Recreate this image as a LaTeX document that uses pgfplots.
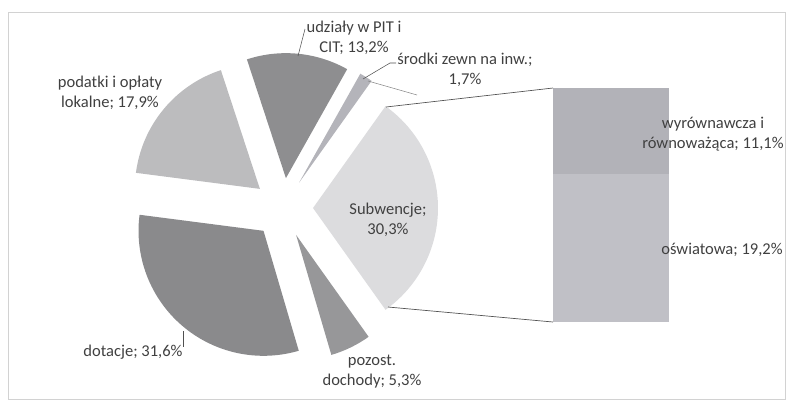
\documentclass[border=0pt]{standalone}
\usepackage{pgfplots}
\usepackage{pgfplotstable}
\pgfplotsset{compat=1.18}
\usepackage{fontspec}
\setmainfont{Carlito}
\definecolor{cSub}{HTML}{DCDCDE}
\definecolor{cSro}{HTML}{B4B4BA}
\definecolor{cUdz}{HTML}{8E8E90}
\definecolor{cPod}{HTML}{BCBCBE}
\definecolor{cDot}{HTML}{8A8A8C}
\definecolor{cPoz}{HTML}{979799}
\definecolor{cWyr}{HTML}{B2B2B8}
\definecolor{cOsw}{HTML}{C0C0C6}
\definecolor{txt}{HTML}{404040}
\definecolor{lin}{HTML}{505050}

% pie slices, counter-clockwise from the split slice
\pgfplotstableread{
v c
30.3 cSub
1.7 cSro
13.2 cUdz
17.9 cPod
31.6 cDot
5.3 cPoz
}\pietab
% bar of Subwencje: top to bottom
\pgfplotstableread{
v c
11.1 cWyr
19.2 cOsw
}\bartab

\begin{document}
\begin{tikzpicture}[font=\fontsize{12.4}{15}\selectfont,every node/.style={text=txt,align=center}]
\begin{axis}[hide axis,scale only axis,clip=false,x=0.75pt,y=0.75pt,y dir=reverse,
  xmin=0,xmax=789,ymin=0,ymax=401]
\pgfplotsextra{%
  \path (axis cs:0,0) rectangle (axis cs:789,401);
  \draw[gray!35,line width=0.5pt] (axis cs:8,12) rectangle (axis cs:785,399);
  \pgfplotstablegetelem{0}{v}\of\pietab
  \pgfmathsetmacro\angA{-1.8*\pgfplotsretval}\xdef\angA{\angA}
  \foreach \i in {0,...,5}{%
    \pgfplotstablegetelem{\i}{v}\of\pietab \let\val\pgfplotsretval
    \pgfplotstablegetelem{\i}{c}\of\pietab \let\col\pgfplotsretval
    \pgfmathsetmacro\angB{\angA+3.6*\val}
    \pgfmathsetmacro\angM{(\angA+\angB)/2}
    \pgfmathsetmacro\vx{283+30*cos(\angM)}
    \pgfmathsetmacro\vy{208-30*sin(\angM)}
    \fill[fill=\col] (axis cs:\vx,\vy) -- ++(\angA:93.75pt) arc[start angle=\angA,end angle=\angB,radius=93.75pt] -- cycle;
    \xdef\angA{\angB}
  }
  \pgfplotstablegetelem{0}{v}\of\bartab \let\va\pgfplotsretval
  \pgfplotstablegetelem{1}{v}\of\bartab \let\vb\pgfplotsretval
  \pgfmathsetmacro\ys{88+234*\va/(\va+\vb)}
  \fill[cWyr] (axis cs:553,88) rectangle (axis cs:669,\ys);
  \fill[cOsw] (axis cs:553,\ys) rectangle (axis cs:669,322);
  \draw[lin,line width=0.5pt] (axis cs:386,107) -- (axis cs:553,88);
  \draw[lin,line width=0.5pt] (axis cs:388,307) -- (axis cs:553,322);
  \draw[lin!70,line width=0.4pt] (axis cs:368,81) -- (axis cs:417,95);
  \draw[lin,line width=0.4pt] (axis cs:298,56) -- (axis cs:305,29);
  \draw[lin,line width=0.4pt] (axis cs:363,79) -- (axis cs:390,63) -- (axis cs:396,63);
  \draw[lin,line width=0.4pt] (axis cs:183,331) -- (axis cs:183,347);
}
\node at (axis cs:354,38) {udziały w PIT i\\CIT; 13,2\%};
\node at (axis cs:465,70) {środki zewn na inw.;\\1,7\%};
\node at (axis cs:110,93) {podatki i opłaty\\lokalne; 17,9\%};
\node at (axis cs:388,220) {Subwencje;\\30,3\%};
\node at (axis cs:133,352) {dotacje; 31,6\%};
\node at (axis cs:372,372) {pozost.\\dochody; 5,3\%};
\node at (axis cs:713,134) {wyrównawcza i\\równoważąca; 11,1\%};
\node at (axis cs:722,250) {oświatowa; 19,2\%};
\end{axis}
\end{tikzpicture}
\end{document}
